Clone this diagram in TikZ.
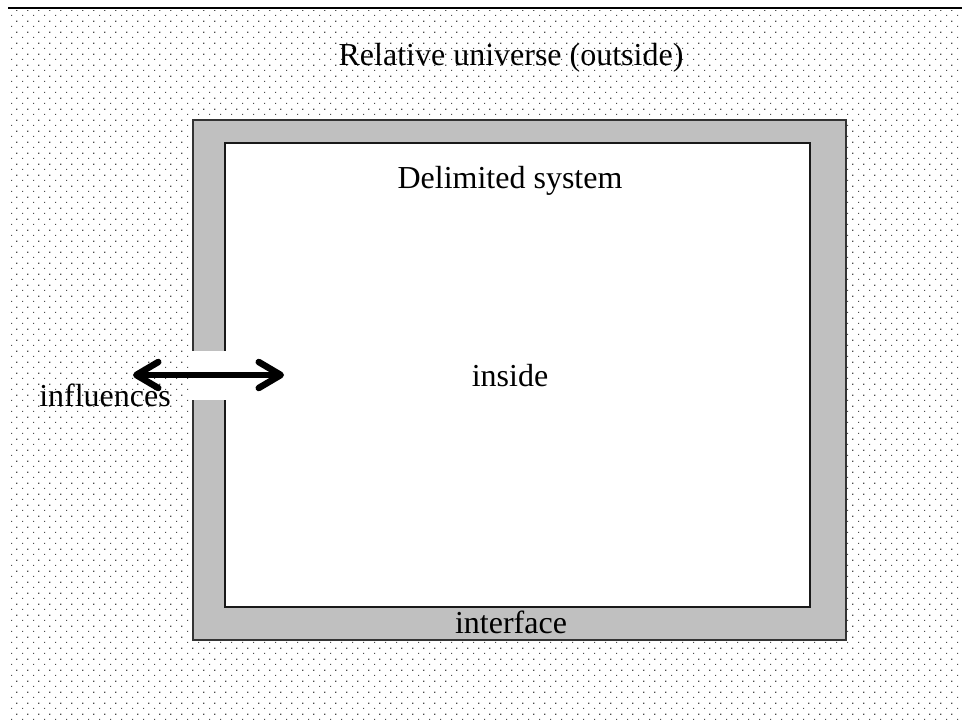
\documentclass[tikz,border=0pt]{standalone}
\usepackage{fontspec}
\setmainfont{Liberation Serif}
\usetikzlibrary{arrows.meta,patterns}
\pgfdeclarepatternformonly{pxdots}{\pgfqpoint{0pt}{0pt}}{\pgfqpoint{10.667pt}{10.667pt}}{\pgfqpoint{10.667pt}{10.667pt}}{%
  \pgfpathrectangle{\pgfqpoint{0pt}{0pt}}{\pgfqpoint{1.2pt}{1.2pt}}%
  \pgfpathrectangle{\pgfqpoint{5.333pt}{5.333pt}}{\pgfqpoint{1.2pt}{1.2pt}}%
  \pgfusepath{fill}}
\tikzset{
  lbl/.style={anchor=base,inner sep=0pt,font=\fontsize{32}{36}\selectfont},
  wall/.style={fill={rgb,255:red,192;green,192;blue,192},draw=black!80,line width=2pt},
  innerbox/.style={fill=white,draw=black!90,line width=2pt},
  bigarrow/.style={line width=6.5pt,{Straight Barb[length=22pt,width=26pt,round]}-{Straight Barb[length=22pt,width=26pt,round]}}
}
\begin{document}
\begin{tikzpicture}[x=1pt,y=-1pt]
\useasboundingbox (0,0) rectangle (962,720);
\fill[white] (0,0) rectangle (962,720);
\fill[pattern=pxdots,pattern color=black!70] (8,10) rectangle (962,720);
\draw[line width=2pt] (8,7.5) -- (962,7.5);
\draw[wall] (193,120) rectangle (846,640);
\draw[innerbox] (225,143) rectangle (810,607);
\fill[white] (191,351) rectangle (226,400);
\node[lbl] (outside) at (511,65) {Relative universe (outside)};
\node[lbl] (system) at (510,188) {Delimited system};
\node[lbl] (inside) at (510,386) {inside};
\node[lbl] (influences) at (105,406) {influences};
\node[lbl] (interface) at (511,633) {interface};
\coordinate (al) at (133,375);
\coordinate (ar) at (284,375);
\draw[bigarrow] (al) -- (ar);
\end{tikzpicture}
\end{document}
